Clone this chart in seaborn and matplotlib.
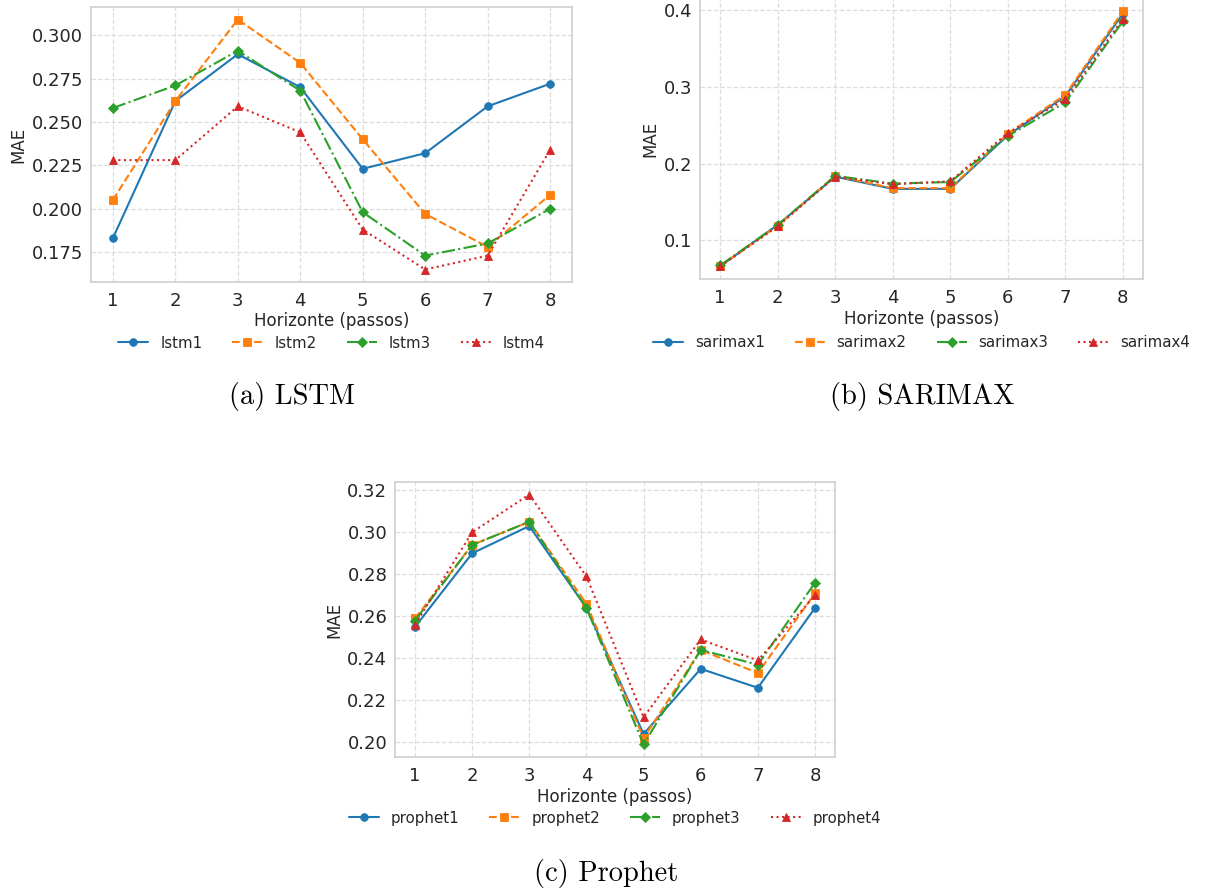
import pandas as pd
import seaborn as sns
import numpy as np
import matplotlib.pyplot as plt
from matplotlib.ticker import MultipleLocator

# horizonte 1..8
horizons = [1, 2, 3, 4, 5, 6, 7, 8]

# LSTM
lstm1 = [0.183, 0.262, 0.289, 0.270, 0.223, 0.232, 0.259, 0.272]
lstm2 = [0.205, 0.262, 0.309, 0.284, 0.240, 0.197, 0.178, 0.208]
lstm3 = [0.258, 0.271, 0.291, 0.268, 0.198, 0.173, 0.180, 0.200]
lstm4 = [0.228, 0.228, 0.259, 0.244, 0.188, 0.165, 0.173, 0.234]

# SARIMAX
sarimax1 = [0.066, 0.120, 0.183, 0.167, 0.167, 0.237, 0.288, 0.396]
sarimax2 = [0.066, 0.119, 0.184, 0.168, 0.168, 0.239, 0.290, 0.399]
sarimax3 = [0.067, 0.120, 0.184, 0.174, 0.176, 0.236, 0.280, 0.386]
sarimax4 = [0.066, 0.118, 0.183, 0.173, 0.177, 0.240, 0.284, 0.389]

# Prophet
prophet1 = [0.255, 0.290, 0.303, 0.264, 0.204, 0.235, 0.226, 0.264]
prophet2 = [0.259, 0.294, 0.305, 0.266, 0.202, 0.244, 0.233, 0.271]
prophet3 = [0.258, 0.294, 0.305, 0.264, 0.199, 0.244, 0.237, 0.276]
prophet4 = [0.256, 0.300, 0.318, 0.279, 0.212, 0.249, 0.239, 0.270]

palette = sns.color_palette("tab10")
markers = ["o", "s", "D", "^"]
styles = ["-", "--", "-.", ":"]

sns.set_theme(style="whitegrid")
plt.rcParams["font.family"] = ["DejaVu Sans"]

W, H = 1205, 890
fig = plt.figure(figsize=(W / 100, H / 100), dpi=100)


def make_axes(left, top, right, bottom):
    return fig.add_axes([left / W, 1 - bottom / H, (right - left) / W, (bottom - top) / H])


def draw_panel(ax, names, series, ystep, leg_y):
    for i, (name, vals) in enumerate(zip(names, series)):
        sns.lineplot(x=horizons, y=vals, ax=ax, color=palette[i], marker=markers[i],
                     linestyle=styles[i], linewidth=1.5, markersize=5.5,
                     markeredgewidth=0.6, markeredgecolor=palette[i], label=name)
    ax.set_xticks(horizons)
    ax.yaxis.set_major_locator(MultipleLocator(ystep))
    ax.grid(True, linestyle="--", color="#dddddd", linewidth=0.9)
    for s in ax.spines.values():
        s.set_color("#cccccc")
        s.set_linewidth(1.1)
    ax.tick_params(axis="both", labelsize=13, length=0, colors="#262626")
    ax.tick_params(axis="x", pad=7.5)
    ax.tick_params(axis="y", pad=5.5)
    ax.set_xlabel("Horizonte (passos)", fontsize=12, labelpad=1.5, color="#262626")
    ax.set_ylabel("MAE", fontsize=12, labelpad=3, color="#262626")
    ax.legend(loc="center", bbox_to_anchor=(0.5, leg_y), ncol=4, frameon=False,
              fontsize=10.8, columnspacing=2.0)


ax_a = make_axes(91, 7, 572, 282)
draw_panel(ax_a, ["lstm1", "lstm2", "lstm3", "lstm4"],
           [lstm1, lstm2, lstm3, lstm4], 0.025, -0.222)

ax_b = make_axes(700, -1.5, 1143, 279)
draw_panel(ax_b, ["sarimax1", "sarimax2", "sarimax3", "sarimax4"],
           [sarimax1, sarimax2, sarimax3, sarimax4], 0.1, -0.228)

ax_c = make_axes(395, 482, 835, 757)
draw_panel(ax_c, ["prophet1", "prophet2", "prophet3", "prophet4"],
           [prophet1, prophet2, prophet3, prophet4], 0.02, -0.222)

# legendas das subfiguras
cap = dict(fontsize=20.5, family="cmr10", ha="center", va="center", color="black")
fig.text(292 / W, 1 - 397 / H, "(a) LSTM", **cap)
fig.text(922 / W, 1 - 397 / H, "(b) SARIMAX", **cap)
fig.text(606 / W, 1 - 873 / H, "(c) Prophet", **cap)

fig.savefig("out.png", dpi=100)
